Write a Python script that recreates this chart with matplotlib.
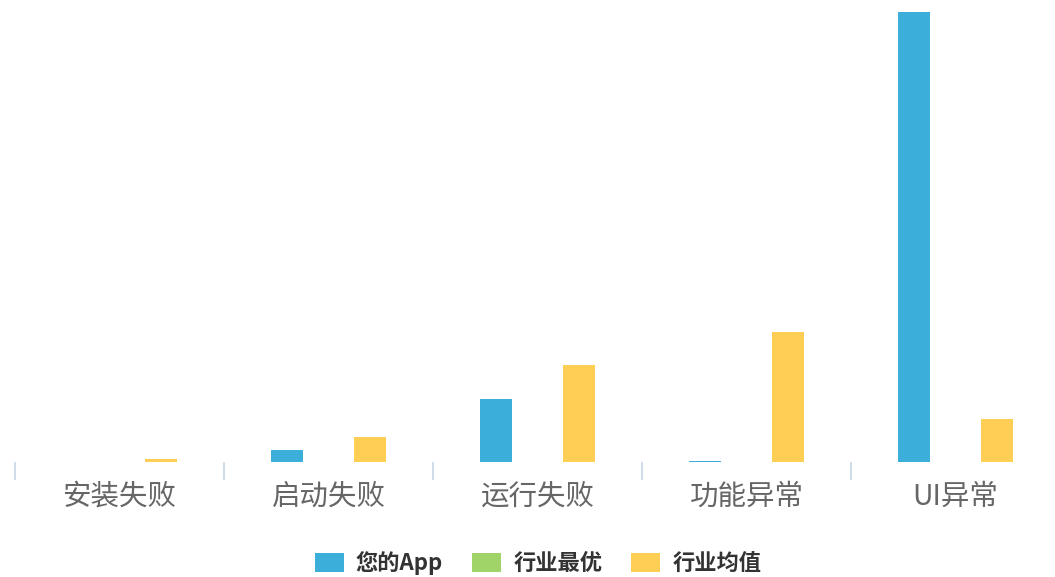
import matplotlib.pyplot as plt
import numpy as np

plt.rcParams['font.family'] = ['Noto Sans CJK SC', 'DejaVu Sans']

categories = ["安装失败", "启动失败", "运行失败", "功能异常", "UI异常"]
series_names = ["您的App", "行业最优", "行业均值"]
your_app = [0, 12, 63, 1.5, 450]
industry_best = [0, 0, 0, 0, 0]
industry_avg = [3, 25, 97, 130, 43]
colors = ["#3BAEDA", "#A0D468", "#FFCE54"]

W, H = 1055, 577
fig = plt.figure(figsize=(W / 100, H / 100), dpi=100)
ax = fig.add_axes([15 / W, 115 / H, 1045 / W, 450 / H])

x = np.arange(len(categories))
bw = 32 / 209
step = 41.5 / 209
for i, (vals, name) in enumerate(zip([your_app, industry_best, industry_avg], series_names)):
    ax.bar(x + (i - 1) * step, vals, width=bw, color=colors[i], label=name)

ax.set_xlim(-0.5, len(categories) - 0.5)
ax.set_ylim(0, 450)
for s in ax.spines.values():
    s.set_visible(False)
ax.set_yticks([])
ax.set_xticks(x)
ax.set_xticklabels(categories, fontsize=20.5, color="#666666")
ax.tick_params(axis="x", which="major", length=0, pad=14)
ax.set_xticks(np.arange(len(categories) + 1) - 0.5, minor=True)
ax.tick_params(axis="x", which="minor", length=13, width=1.2, color="#C8D6E8")

fig.legend(loc="center", bbox_to_anchor=(538 / W, 1 - 563 / H), ncol=3, frameon=False,
           prop={"size": 16, "weight": "bold"}, labelcolor="#333333",
           handlelength=1.3, handleheight=0.95, handletextpad=0.55, columnspacing=1.3)

fig.savefig("out.png", dpi=100)
